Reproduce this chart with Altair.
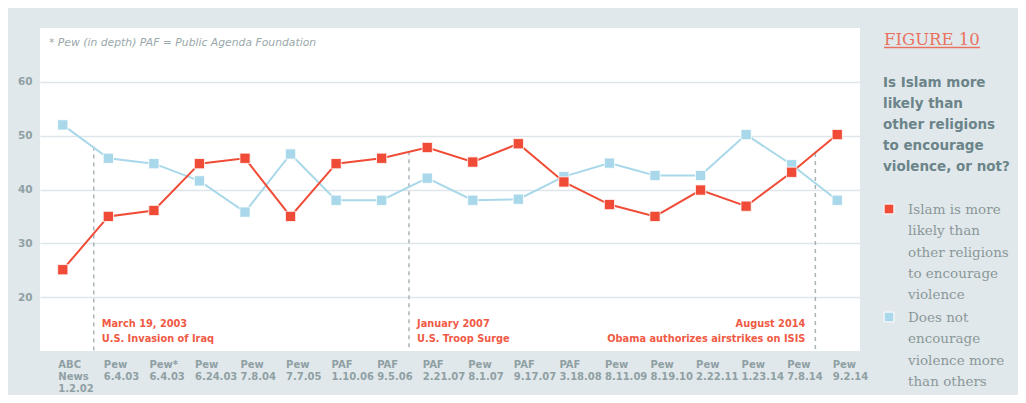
import json
import altair as alt
import pandas as pd

# ---------------- data ----------------
sources = ["ABC News", "Pew", "Pew*", "Pew", "Pew", "Pew", "PAF", "PAF", "PAF",
           "Pew", "PAF", "PAF", "Pew", "Pew", "Pew", "Pew", "Pew", "Pew"]
dates = ["1.2.02", "6.4.03", "6.4.03", "6.24.03", "7.8.04", "7.7.05", "1.10.06",
         "9.5.06", "2.21.07", "8.1.07", "9.17.07", "3.18.08", "8.11.09", "8.19.10",
         "2.22.11", "1.23.14", "7.8.14", "9.2.14"]
more_likely = [25.1, 35.0, 36.1, 44.8, 45.8, 35.0, 44.8, 45.8, 47.8, 45.1, 48.5,
               41.4, 37.2, 35.0, 39.9, 36.9, 43.2, 50.2]
not_more = [52.0, 45.8, 44.8, 41.6, 35.8, 46.6, 38.0, 38.0, 42.1, 38.0, 38.2,
            42.4, 44.9, 42.6, 42.6, 50.2, 44.6, 38.0]
series_names = ["Islam is more likely than other religions to encourage violence",
                "Does not encourage violence more than others"]
legend_labels = ["Islam is more|likely than|other religions|to encourage|violence",
                 "Does not|encourage|violence more|than others"]

event_pos = [0.68, 7.6, 16.52]
event_top = [48.0, 47.1, 46.8]
event_date = ["March 19, 2003", "January 2007", "August 2014"]
event_desc = ["U.S. Invasion of Iraq", "U.S. Troop Surge", "Obama authorizes airstrikes on ISIS"]
event_align = ["left", "left", "right"]

note = "* Pew (in depth)  PAF = Public Agenda Foundation"
fig_label = "FIGURE 10"
question = "Is Islam more|likely than|other religions|to encourage|violence, or not?"

# ---------------- styles ----------------
RED = "#f04b36"
BLUE = "#a8d8e9"
BG = "#e1e8eb"
AXIS_TXT = "#8fa0a4"
TITLE_TXT = "#6b8489"
LEG_TXT = "#8a9899"
SANS = "DejaVu Sans"
SERIF = "DejaVu Serif"

x_labels = [s.replace(" ", "|") + "|" + d for s, d in zip(sources, dates)]
label_expr = "split(" + json.dumps(x_labels) + "[datum.value], '|')"

n = len(dates)
rows = []
for i in range(n):
    rows.append({"idx": i, "series": series_names[0], "value": more_likely[i]})
    rows.append({"idx": i, "series": series_names[1], "value": not_more[i]})
df = pd.DataFrame(rows)

events = pd.DataFrame({
    "pos": event_pos, "top": event_top, "bottom": [10] * len(event_pos),
    "label": [a + "|" + b for a, b in zip(event_date, event_desc)],
    "align": event_align,
})

x_enc = alt.X("idx:Q",
              scale=alt.Scale(domain=[-0.5, n - 0.5], nice=False, zero=False),
              axis=alt.Axis(values=list(range(n)), labelExpr=label_expr,
                            labelAlign="left", labelOffset=-5, labelPadding=8,
                            labelLineHeight=12.3, labelFont=SANS, labelFontWeight="bold",
                            labelFontSize=10, labelColor=AXIS_TXT, domain=False,
                            ticks=False, grid=False, labelOverlap=False, labelBound=False),
              title=None)
y_enc = alt.Y("value:Q",
              scale=alt.Scale(domain=[10, 70], nice=False, zero=False),
              axis=alt.Axis(values=[20, 30, 40, 50, 60], labelPadding=8,
                            labelFont=SANS, labelFontWeight="bold", labelFontSize=10.5,
                            labelColor=AXIS_TXT, domain=False, ticks=False,
                            grid=True, gridColor="#dfe6e9", gridWidth=1.5),
              title=None)

base = alt.Chart(df)

rules = alt.Chart(events).mark_rule(color="#a9b4b7", strokeDash=[4, 4], strokeWidth=1.5).encode(
    x=alt.X("pos:Q"), y=alt.Y("top:Q"), y2="bottom:Q")

layers = [rules]
for name, col in [(series_names[1], BLUE), (series_names[0], RED)]:
    sub = base.transform_filter(alt.datum.series == name)
    layers.append(sub.mark_line(color=col, strokeWidth=2).encode(x=x_enc, y=y_enc))
    layers.append(sub.mark_point(shape="square", filled=True, size=105, opacity=1,
                                 fill=col, stroke="white", strokeWidth=0.8)
                  .encode(x="idx:Q", y="value:Q"))

ann_left = alt.Chart(events).transform_filter(alt.datum.align == "left").mark_text(
    align="left", baseline="alphabetic", dx=8, lineBreak="|", lineHeight=15,
    font=SANS, fontWeight="bold", fontSize=9.8, color="#f05a45").encode(
    x="pos:Q", y=alt.datum(14.5), text="label:N")
ann_right = alt.Chart(events).transform_filter(alt.datum.align == "right").mark_text(
    align="right", baseline="alphabetic", dx=-10, lineBreak="|", lineHeight=15,
    font=SANS, fontWeight="bold", fontSize=9.8, color="#f05a45").encode(
    x="pos:Q", y=alt.datum(14.5), text="label:N")
layers += [ann_left, ann_right]

one = pd.DataFrame({"k": [0]})
note_txt = alt.Chart(one).mark_text(align="left", baseline="alphabetic", font=SANS,
                                    fontStyle="italic", fontSize=10.8, color="#9aa8ab",
                                    text=note).encode(x=alt.value(9), y=alt.value(18))
fig_txt = alt.Chart(one).mark_text(align="left", baseline="alphabetic", font=SERIF,
                                   fontSize=16.5, color="#e8735f", text=fig_label).encode(
    x=alt.value(844), y=alt.value(16.5))
fig_rule = alt.Chart(one).mark_rule(color="#e8735f", strokeWidth=1.5).encode(
    x=alt.value(844), x2=alt.value(940), y=alt.value(19.5))
q_txt = alt.Chart(one).mark_text(align="left", baseline="alphabetic", font=SANS,
                                 fontWeight="bold", fontSize=13.5, lineBreak="|",
                                 lineHeight=21, color=TITLE_TXT, text=question).encode(
    x=alt.value(843), y=alt.value(58.5))
layers += [note_txt, fig_txt, fig_rule, q_txt]

for lbl, col, ysq in [(legend_labels[0], RED, 181), (legend_labels[1], BLUE, 289)]:
    layers.append(alt.Chart(one).mark_point(shape="square", filled=True, size=95, opacity=1,
                                            fill=col, stroke="white", strokeWidth=1)
                  .encode(x=alt.value(849), y=alt.value(ysq)))
    layers.append(alt.Chart(one).mark_text(align="left", baseline="alphabetic", font=SERIF,
                                           fontSize=13.5, lineBreak="|", lineHeight=21.3,
                                           color=LEG_TXT, text=lbl)
                  .encode(x=alt.value(868), y=alt.value(ysq + 5)))

chart = alt.layer(*layers).properties(
    width=820, height=323,
    autosize=alt.AutoSizeParams(type="none"),
    padding={"left": 32, "top": 20, "right": 158, "bottom": 44},
    background=BG,
).configure_view(stroke=None, fill="white")

chart.save("out.html", embed_options={"renderer": "svg", "actions": False})
